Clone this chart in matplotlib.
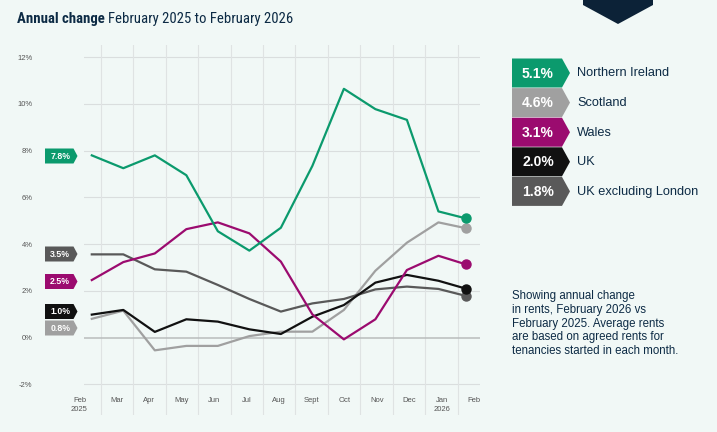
import numpy as np
import matplotlib
matplotlib.use("Agg")
import matplotlib.pyplot as plt
from matplotlib.patches import Polygon

plt.rcParams['font.family'] = ['Liberation Sans', 'DejaVu Sans']

months = ['Feb\n2025', 'Mar', 'Apr', 'May', 'Jun', 'Jul', 'Aug', 'Sept', 'Oct',
          'Nov', 'Dec', 'Jan\n2026', 'Feb']

northern_ireland = [7.8, 7.25, 7.8, 6.95, 4.55, 3.72, 4.7, 7.35, 10.65, 9.78, 9.32, 5.4, 5.1]
scotland = [0.8, 1.15, -0.55, -0.36, -0.36, 0.06, 0.25, 0.25, 1.18, 2.86, 4.06, 4.93, 4.68]
wales = [2.46, 3.23, 3.6, 4.64, 4.93, 4.46, 3.25, 0.99, -0.08, 0.78, 2.89, 3.5, 3.13]
uk = [0.98, 1.18, 0.24, 0.78, 0.68, 0.35, 0.15, 0.89, 1.39, 2.35, 2.68, 2.43, 2.09]
uk_ex_london = [3.56, 3.56, 2.92, 2.82, 2.25, 1.65, 1.11, 1.46, 1.65, 2.06, 2.18, 2.08, 1.78]

series_names = ['Northern Ireland', 'Scotland', 'Wales', 'UK', 'UK excluding London']
latest = ['5.1%', '4.6%', '3.1%', '2.0%', '1.8%']
first = ['7.8%', '0.8%', '2.5%', '1.0%', '3.5%']
colors = ['#0b9a6d', '#a0a0a0', '#9b0b6f', '#111111', '#595959']

yticks = [-2, 0, 2, 4, 6, 8, 10, 12]

bg = '#f1f8f6'
navy = '#0d2b45'
title_font = ['Roboto Condensed', 'Liberation Sans']

W, H = 717, 432
fig = plt.figure(figsize=(W / 100, H / 100), dpi=100, facecolor=bg)

# main plot area (pixel box 84..480 x 45..415)
ax = fig.add_axes([84 / W, 1 - 415 / H, (480 - 84) / W, (415 - 45) / H])
ax.set_facecolor(bg)
for s in ax.spines.values():
    s.set_visible(False)

px_per = 23.35
ax.set_ylim((337.5 - 415) / px_per, (337.5 - 45) / px_per)
ax.set_xlim(0.49, 12.68)

for yv in yticks:
    if yv == 0:
        ax.axhline(yv, color='#b9bcbc', lw=1.1, zorder=1)
    else:
        ax.axhline(yv, color='#dadede', lw=0.8, zorder=0)
for xv in range(1, 13):
    ax.axvline(xv, color='#dfe3e3', lw=0.8, zorder=0)

ax.set_xticks([])
ax.set_yticks(yticks)
ax.set_yticklabels([f'{v}%' for v in yticks], fontsize=5.5, color='#555555')
ax.tick_params(axis='y', length=0, pad=37)

xs = 0.73 + 0.97 * np.arange(len(months))
xs[-1] -= 0.12

all_series = [northern_ireland, scotland, wales, uk, uk_ex_london]
for i in [1, 4, 3, 2, 0]:
    ax.plot(xs, all_series[i], color=colors[i], lw=1.6, zorder=3)
    ax.plot(xs[-1], all_series[i][-1], 'o', color=colors[i], ms=6.5, zorder=6)

label_x = [0.35] + [i + 0.5 for i in range(1, 13)]
for lx, m in zip(label_x, months):
    ax.text(lx, -2.55, m, ha='center', va='top', fontsize=5.5, color='#555555',
            linespacing=1.35, clip_on=False)

# overlay in pixel coordinates for badges and text
ov = fig.add_axes([0, 0, 1, 1], facecolor='none')
ov.set_xlim(0, W)
ov.set_ylim(H, 0)
ov.axis('off')


def badge(x0, x1, tip, yc, h, color, text, fs):
    pts = [(x0, yc - h / 2), (x1, yc - h / 2), (tip, yc), (x1, yc + h / 2), (x0, yc + h / 2)]
    ov.add_patch(Polygon(pts, closed=True, facecolor=color, edgecolor='none'))
    ov.text((x0 + x1) / 2 + 1, yc + 0.5, text, ha='center', va='center', color='white',
            fontsize=fs, fontweight='bold')


# legend badges on right
for k, (name, val, c) in enumerate(zip(series_names, latest, colors)):
    yc = 73 + k * 29.6
    badge(512, 562, 570, yc, 29, c, val, 10)
    ov.text(577, yc + 0.5, name, ha='left', va='center', color=navy, fontsize=9.2)

# first-value badges on left
left_y = [156, 328, 281.5, 311.5, 254]
for val, c, yc in zip(first, colors, left_y):
    badge(45, 73.5, 77.5, yc, 15, c, val, 6.3)

# title
t1 = ov.text(17, 18.5, 'Annual change', ha='left', va='center', color=navy,
             fontsize=10.6, fontweight='bold', family=title_font)
fig.canvas.draw()
bb = t1.get_window_extent()
ov.text(17 + bb.width + 3, 18.5, 'February 2025 to February 2026', ha='left', va='center',
        color=navy, fontsize=10.6, family=title_font)

# top navy marker
ov.add_patch(Polygon([(583, 0), (653, 0), (653, 5), (618, 24), (583, 5)], closed=True,
                     facecolor='#0c2237', edgecolor='none'))
ov.text(618, -3, '2026', ha='center', va='center', color='white', fontsize=9, fontweight='bold')

note = ('Showing annual change\nin rents, February 2026 vs\nFebruary 2025. Average rents\n'
        'are based on agreed rents for\ntenancies started in each month.')
ov.text(512, 290, note, ha='left', va='top', color=navy, fontsize=8.3, linespacing=1.2)

fig.savefig('out.png', dpi=100, facecolor=bg)
